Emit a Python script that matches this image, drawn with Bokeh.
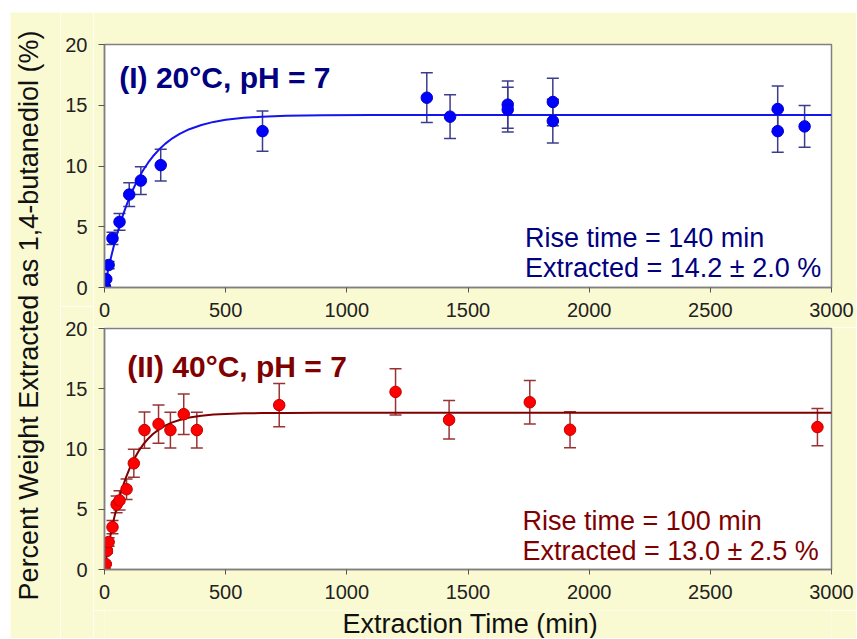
import math
from bokeh.plotting import figure
from bokeh.models import Range1d, ColumnDataSource, Whisker, TeeHead, Label, FixedTicker
from bokeh.layouts import row, column
from bokeh.embed import file_html
from bokeh.resources import INLINE

# ---------------- data ----------------
x_ticks = [0, 500, 1000, 1500, 2000, 2500, 3000]
y_ticks = [0, 5, 10, 15, 20]

# Panel I: 20 C, pH 7 (measured points)
t_20 = [2, 7, 17, 33, 62, 102, 150, 232, 652, 1330, 1426, 1664, 1664, 1850, 1850, 2778, 2778, 2889]
v_20 = [0.05, 0.69, 1.85, 4.04, 5.4, 7.65, 8.8, 10.07, 12.87, 15.62, 14.06, 15.05, 14.64, 15.27, 13.7, 14.69, 12.87, 13.26]
e_20 = [0.05, 0.1, 0.3, 0.5, 0.69, 0.98, 1.14, 1.3, 1.65, 2.05, 1.8, 1.95, 1.85, 1.95, 1.8, 1.9, 1.73, 1.72]

# Panel I fitted curve
fit_t_20 = [0, 10, 20, 30, 40, 50, 60, 75, 90, 105, 120, 140, 160, 180, 200, 225, 250, 280, 310, 350, 400, 450, 500, 575, 650, 750, 900, 1100, 3000]
fit_v_20 = [0.0, 0.98, 1.89, 2.74, 3.53, 4.26, 4.95, 5.89, 6.73, 7.49, 8.17, 8.98, 9.67, 10.27, 10.80, 11.35, 11.82, 12.28, 12.65, 13.03, 13.38, 13.63, 13.80, 13.97, 14.06, 14.13, 14.18, 14.20, 14.20]

# Panel II: 40 C, pH 7 (measured points)
t_40 = [0, 5, 10, 17, 33, 50, 62, 91, 121, 165, 223, 272, 327, 381, 721, 1201, 1422, 1755, 1921, 2942]
v_40 = [0.0, 0.45, 1.54, 2.28, 3.52, 5.4, 5.73, 6.66, 8.81, 11.57, 12.07, 11.57, 12.89, 11.57, 13.64, 14.74, 12.42, 13.88, 11.6, 11.82]
e_40 = [0.05, 0.1, 0.2, 0.35, 0.55, 0.7, 0.8, 0.86, 1.16, 1.5, 1.59, 1.48, 1.68, 1.48, 1.79, 1.92, 1.6, 1.8, 1.5, 1.55]

# Panel II fitted curve
fit_t_40 = [0, 10, 20, 30, 40, 50, 60, 75, 90, 105, 120, 140, 160, 180, 200, 225, 250, 280, 310, 350, 400, 450, 500, 575, 650, 750, 900, 3000]
fit_v_40 = [0.0, 1.24, 2.36, 3.37, 4.29, 5.12, 5.87, 6.86, 7.71, 8.45, 9.08, 9.79, 10.38, 10.85, 11.24, 11.63, 11.93, 12.21, 12.41, 12.61, 12.76, 12.86, 12.91, 12.96, 12.98, 12.99, 13.0, 13.0]

title_20 = "(I) 20°C, pH = 7"
note_20 = ["Rise time = 140 min", "Extracted = 14.2 ± 2.0 %"]
title_40 = "(II) 40°C, pH = 7"
note_40 = ["Rise time = 100 min", "Extracted = 13.0 ± 2.5 %"]
x_title = "Extraction Time (min)"
y_title = "Percent Weight Extracted as 1,4-butanediol (%)"

# ---------------- style ----------------
BG = "#FAFAD2"
FONT = "Liberation Sans"
MAIN_W = 763
YAX_W = 33


def style_blank(p):
    p.xgrid.visible = False
    p.ygrid.visible = False
    p.outline_line_color = None
    p.background_fill_color = BG
    p.border_fill_color = BG


def make_yaxis_fig(height, mb_top, mb_bottom, yr):
    # figure that only carries the y tick labels of a panel
    p = figure(width=YAX_W, height=height, x_range=Range1d(0, 1), y_range=yr,
               x_axis_location=None, output_backend="svg", toolbar_location=None,
               title_location=None,
               min_border_left=YAX_W - 1, min_border_right=0,
               min_border_top=mb_top, min_border_bottom=mb_bottom)
    style_blank(p)
    p.yaxis.ticker = FixedTicker(ticks=y_ticks)
    p.yaxis.axis_line_color = None
    p.yaxis.major_tick_line_color = None
    p.yaxis.minor_tick_line_color = None
    p.yaxis.major_tick_in = 0
    p.yaxis.major_tick_out = 0
    p.yaxis.major_label_standoff = 5
    p.yaxis.major_label_text_font = FONT
    p.yaxis.major_label_text_font_size = "20px"
    p.yaxis.major_label_text_color = "#222222"
    return p


def make_panel(height, mb_top, mb_bottom, yr, ts, vs, es, ft, fv,
               dot_fill, dot_line, bar_color, curve_color, text_color,
               title, title_xy, notes, notes_xy):
    p = figure(width=MAIN_W, height=height, x_range=Range1d(0, 3000), y_range=yr,
               output_backend="svg", toolbar_location=None, title_location=None,
               min_border_left=11, min_border_right=25,
               min_border_top=mb_top, min_border_bottom=mb_bottom)
    p.background_fill_color = "white"
    p.border_fill_color = BG
    p.outline_line_color = "#808080"
    p.outline_line_width = 1.5
    p.xgrid.visible = False
    p.ygrid.visible = False
    p.xaxis.ticker = FixedTicker(ticks=x_ticks)
    p.yaxis.ticker = FixedTicker(ticks=y_ticks)
    p.axis.axis_line_color = "#808080"
    p.axis.axis_line_width = 1.5
    p.axis.major_tick_line_color = "#555555"
    p.axis.major_tick_line_width = 1
    p.axis.major_tick_in = 0
    p.xaxis.major_tick_out = 5
    p.yaxis.major_tick_out = 6
    p.axis.minor_tick_line_color = None
    p.xaxis.major_label_text_font = FONT
    p.xaxis.major_label_text_font_size = "20px"
    p.xaxis.major_label_text_color = "#222222"
    p.xaxis.major_label_standoff = 10
    # y labels are drawn by the neighbouring label figure
    p.yaxis.major_label_overrides = {k: "" for k in y_ticks}
    p.yaxis.major_label_standoff = 0

    src = ColumnDataSource(dict(
        t=ts, v=vs,
        lo=[v - e for v, e in zip(vs, es)],
        hi=[v + e for v, e in zip(vs, es)],
    ))
    w = Whisker(base="t", lower="lo", upper="hi", source=src,
                line_color=bar_color, line_width=1.5, level="underlay",
                upper_head=TeeHead(size=12, line_color=bar_color, line_width=1.5),
                lower_head=TeeHead(size=12, line_color=bar_color, line_width=1.5))
    p.add_layout(w)
    p.line(ft, fv, line_color=curve_color, line_width=2)
    p.scatter(x="t", y="v", source=src, size=11.5, fill_color=dot_fill,
              line_color=dot_line, line_width=1)

    p.add_layout(Label(x=title_xy[0], y=title_xy[1], text=title, text_font=FONT,
                       text_font_size="30px", text_font_style="bold",
                       text_color=text_color, text_baseline="alphabetic"))
    for txt, (nx, ny) in zip(notes, notes_xy):
        p.add_layout(Label(x=nx, y=ny, text=txt, text_font=FONT,
                           text_font_size="27px", text_color=text_color,
                           text_baseline="alphabetic"))
    return p


yr_top = Range1d(0, 20)
yr_bot = Range1d(0, 20)

top = make_panel(315, 32, 40, yr_top, t_20, v_20, e_20, fit_t_20, fit_v_20,
                 "#0000FF", "#0000CC", "#3C3C8C", "#1414F0", "#000080",
                 title_20, (61, 17.3), note_20, [(1735, 4.1), (1735, 1.63)])
bottom = make_panel(283, 1, 41, yr_bot, t_40, v_40, e_40, fit_t_40, fit_v_40,
                    "#FF0000", "#C00000", "#993333", "#800000", "#800000",
                    title_40, (94, 16.88), note_40, [(1725, 3.99), (1725, 1.51)])

# x-axis title strip under the lower panel
xt = figure(width=MAIN_W, height=28, x_range=Range1d(0, MAIN_W), y_range=Range1d(0, 28),
            output_backend="svg", toolbar_location=None, title_location=None, min_border=0,
            x_axis_location=None, y_axis_location=None)
style_blank(xt)
xt.add_layout(Label(x=384, y=0, text=x_title, text_font=FONT, text_font_size="27px",
                    text_color="#111111", text_align="center", text_baseline="bottom"))

ytop = make_yaxis_fig(294, 32, 19, yr_top)
ybot = make_yaxis_fig(332, 22, 69, yr_bot)

lab = figure(width=50, height=626, x_range=Range1d(0, 50), y_range=Range1d(0, 626),
             output_backend="svg", toolbar_location=None, title_location=None, min_border=0,
             x_axis_location=None, y_axis_location=None)
style_blank(lab)
lab.add_layout(Label(x=18, y=323, text=y_title, angle=math.pi / 2, text_font=FONT,
                     text_font_size="27px", text_color="#111111",
                     text_align="center", text_baseline="middle"))

layout = row(lab, column(ytop, ybot), column(top, bottom, xt), margin=(12, 0, 0, 10))

open("out.html", "w").write(file_html(layout, INLINE))
